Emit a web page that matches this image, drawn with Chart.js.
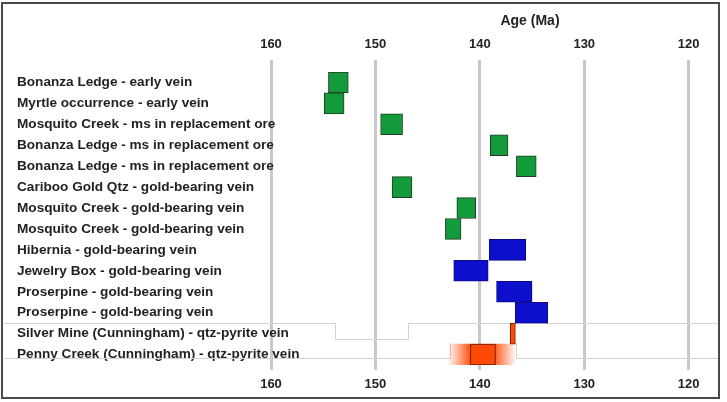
<!DOCTYPE html>
<html lang="en">
<head>
    <meta charset="UTF-8">
    <title>Age (Ma)</title>
    <script src="https://cdn.jsdelivr.net/npm/chart.js"></script>
    <style>
        body { margin: 0; background: #fff; }
        #ages { display: block; }
    </style>
</head>
<body>
    <canvas id="ages" width="727" height="402"></canvas>

    <script>
        // rows, top to bottom
        const rowLabels = [
            'Bonanza Ledge - early vein',
            'Myrtle occurrence - early vein',
            'Mosquito Creek - ms in replacement ore',
            'Bonanza Ledge - ms in replacement ore',
            'Bonanza Ledge - ms in replacement ore',
            'Cariboo Gold Qtz - gold-bearing vein',
            'Mosquito Creek - gold-bearing vein',
            'Mosquito Creek - gold-bearing vein',
            'Hibernia - gold-bearing vein',
            'Jewelry Box - gold-bearing vein',
            'Proserpine - gold-bearing vein',
            'Proserpine - gold-bearing vein',
            'Silver Mine (Cunningham) - qtz-pyrite vein',
            'Penny Creek (Cunningham) - qtz-pyrite vein'
        ];

        // age ranges in Ma, [older, younger]
        const greenAges = [
            [154.5, 152.6], [154.9, 153.0], [149.5, 147.4], [139.0, 137.3],
            [136.5, 134.6], [148.4, 146.5], [142.2, 140.4], [143.3, 141.8],
            null, null, null, null, null, null
        ];
        const blueAges = [
            null, null, null, null, null, null, null, null,
            [139.1, 135.6], [142.5, 139.2], [138.4, 135.0], [136.6, 133.5],
            null, null
        ];
        const redAges = [
            null, null, null, null, null, null, null, null, null, null, null, null,
            [137.1, 136.6], [140.9, 138.5]
        ];
        const redUncertainty = [
            null, null, null, null, null, null, null, null, null, null, null, null,
            null, [143.0, 136.6]
        ];

        const tickValues = [160, 150, 140, 130, 120];
        const axisMin = 117;
        const axisMax = 160;

        const gridColor = '#c8c8c8';
        const textColor = '#222';
        const fontFamily = '"Liberation Sans", Arial, sans-serif';
        const labelAxisWidth = 254;

        function fuzzyFill(ctx) {
            const r = redUncertainty[ctx.dataIndex];
            const x = ctx.chart.scales.x;
            if (!r || !x) return 'rgba(255,69,0,0.5)';
            const a = x.getPixelForValue(r[0]);
            const b = x.getPixelForValue(r[1]);
            const g = ctx.chart.ctx.createLinearGradient(a, 0, b, 0);
            g.addColorStop(0, 'rgba(255,69,0,0.03)');
            g.addColorStop(0.32, 'rgba(255,69,0,0.9)');
            g.addColorStop(0.68, 'rgba(255,69,0,0.9)');
            g.addColorStop(1, 'rgba(255,69,0,0.03)');
            return g;
        }

        // frame, axis title and the faint pasted-in rules
        const decor = {
            id: 'decor',
            beforeDatasetsDraw(chart) {
                const c = chart.ctx;
                c.save();
                c.strokeStyle = '#d2d2d2';
                c.lineWidth = 1;
                c.beginPath();
                c.moveTo(4, 323.5); c.lineTo(335.5, 323.5); c.lineTo(335.5, 339.5);
                c.lineTo(408.5, 339.5); c.lineTo(408.5, 323.5); c.lineTo(719, 323.5);
                c.moveTo(4, 358.5); c.lineTo(450.5, 358.5); c.lineTo(450.5, 343);
                c.moveTo(516.5, 343); c.lineTo(516.5, 358.5); c.lineTo(719, 358.5);
                c.stroke();
                c.restore();
            },
            afterDraw(chart) {
                const c = chart.ctx;
                c.save();
                c.fillStyle = textColor;
                c.font = 'bold 14px ' + fontFamily;
                c.textAlign = 'center';
                c.textBaseline = 'middle';
                c.fillText('Age (Ma)', 530, 21);
                c.strokeStyle = '#4a4a4a';
                c.lineWidth = 2;
                c.strokeRect(2, 3, 717, 395);
                c.restore();
            }
        };

        const barCommon = {
            grouped: false,
            barPercentage: 1,
            categoryPercentage: 1,
            borderSkipped: false,
            borderWidth: 1
        };

        new Chart(document.getElementById('ages'), {
            type: 'bar',
            data: {
                labels: rowLabels,
                datasets: [
                    Object.assign({ label: 'uncertainty', data: redUncertainty, backgroundColor: fuzzyFill, order: 2 }, barCommon, { borderWidth: 0 }),
                    Object.assign({ label: 'early / replacement', data: greenAges, backgroundColor: '#139a3b', borderColor: '#1f3d25', order: 1 }, barCommon),
                    Object.assign({ label: 'gold-bearing', data: blueAges, backgroundColor: '#0d0fcc', borderColor: '#0a0a8a', order: 1 }, barCommon),
                    Object.assign({ label: 'qtz-pyrite', data: redAges, backgroundColor: '#ff4a05', borderColor: '#6b1a00', order: 1 }, barCommon)
                ]
            },
            options: {
                indexAxis: 'y',
                responsive: false,
                animation: false,
                layout: { padding: { left: 17, right: 7, top: 0, bottom: 0 } },
                plugins: {
                    legend: { display: false },
                    tooltip: { enabled: false }
                },
                scales: {
                    x: {
                        type: 'linear',
                        position: 'top',
                        reverse: true,
                        min: axisMin,
                        max: axisMax,
                        afterBuildTicks: s => { s.ticks = tickValues.map(v => ({ value: v })); },
                        afterFit: s => { s.height = 72; },
                        grid: { color: gridColor, lineWidth: 3, tickLength: 12, drawTicks: true },
                        border: { display: false },
                        ticks: {
                            padding: 8,
                            color: textColor,
                            font: { family: fontFamily, size: 13, weight: 'bold' }
                        }
                    },
                    x2: {
                        type: 'linear',
                        position: 'bottom',
                        reverse: true,
                        min: axisMin,
                        max: axisMax,
                        afterBuildTicks: s => { s.ticks = tickValues.map(v => ({ value: v })); },
                        afterFit: s => { s.height = 37; },
                        grid: { color: gridColor, lineWidth: 3, tickLength: 5, drawOnChartArea: false },
                        border: { display: false },
                        ticks: {
                            padding: 7,
                            color: textColor,
                            font: { family: fontFamily, size: 13, weight: 'bold' }
                        }
                    },
                    y: {
                        type: 'category',
                        position: 'left',
                        afterFit: s => { s.width = labelAxisWidth; },
                        grid: { display: false, drawTicks: false },
                        border: { display: false },
                        ticks: {
                            // mirrored so long labels are not clipped at the plot edge
                            mirror: true,
                            crossAlign: 'near',
                            padding: -labelAxisWidth,
                            autoSkip: false,
                            color: textColor,
                            font: { family: fontFamily, size: 13.6, weight: 'bold' }
                        }
                    }
                }
            },
            plugins: [decor]
        });
    </script>
</body>
</html>
